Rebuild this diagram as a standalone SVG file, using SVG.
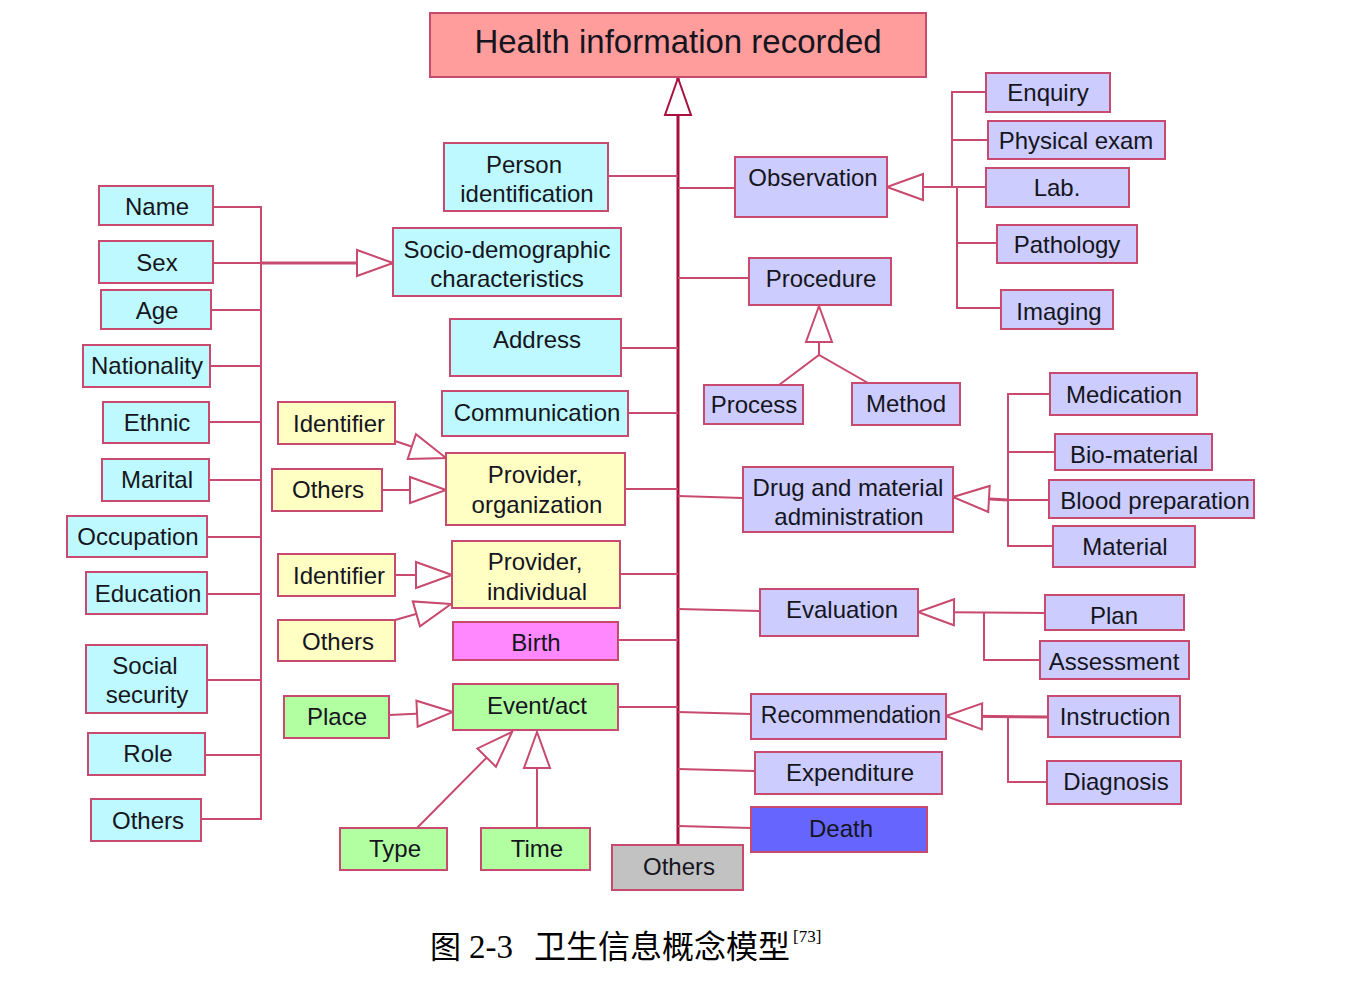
<svg xmlns="http://www.w3.org/2000/svg" width="1370" height="988" viewBox="0 0 1370 988">
<style>
  .box{stroke:#c84a6e;stroke-width:2}
  .cy{fill:#bdf9ff}.ye{fill:#ffffc4}.pu{fill:#ccccff}.gr{fill:#b2ffa2}.mg{fill:#ff88ff}.dk{fill:#6666ff}.gy{fill:#c2c2c2}.rd{fill:#ff9c9c}
  text{font-family:"Liberation Sans",Arial,sans-serif;font-size:24px;fill:#151520;text-anchor:middle}
  .ln{fill:none;stroke:#c84a6e;stroke-width:2}
  .arr{fill:none;stroke:#c84a6e;stroke-width:2;marker-end:url(#tri)}
  .spine{fill:none;stroke:#a8103e;stroke-width:3;marker-end:url(#tri2)}
</style>
<defs>
  <marker id="tri" viewBox="-40 -16 44 32" refX="0" refY="0" markerWidth="44" markerHeight="32" markerUnits="userSpaceOnUse" orient="auto">
    <path d="M0,0 L-36,-13 L-36,13 Z" fill="#fff" stroke="#c84a6e" stroke-width="2"/>
  </marker>
  <marker id="tri2" viewBox="-40 -16 44 32" refX="0" refY="0" markerWidth="44" markerHeight="32" markerUnits="userSpaceOnUse" orient="auto">
    <path d="M0,0 L-37,-13 L-37,13 Z" fill="#fff" stroke="#a8103e" stroke-width="2"/>
  </marker>
</defs>
<rect width="1370" height="988" fill="#fff"/>

<g id="connectors">
  <path class="spine" d="M678,845 L678,78"/>
  <path class="ln" d="M213,207 H261 V819 H201 M213,263 H261 M211,310 H261 M210,366 H261 M209,422 H261 M209,480 H261 M207,537 H261 M207,594 H261 M207,680 H261 M205,755 H261"/>
  <path class="arr" d="M261,263 L393,263" style="stroke-width:3"/>
  <path class="ln" d="M608,176 H678 M621,348 H678 M628,413 H678 M625,489 H678 M620,574 H678 M618,640 H678 M618,707 H678"/>
  <path class="ln" d="M678,188 H735 M678,278 H749 M678,496 L743,498 M678,609 L760,611 M678,712 L751,714 M678,769 L755,771 M678,826 L751,828"/>
  <path class="arr" d="M395,441 L446,458"/>
  <path class="arr" d="M382,490 L446,490"/>
  <path class="arr" d="M395,575 L452,575"/>
  <path class="arr" d="M395,620 L451,604"/>
  <path class="arr" d="M389,715 L453,712"/>
  <path class="arr" d="M417,828 L512,732"/>
  <path class="arr" d="M537,828 L537,732"/>
  <path class="arr" d="M957,187 L887,187"/>
  <path class="ln" d="M986,92 H952 V187 M988,140 H952 M957,187 H986 M957,187 V308 H1001 M957,243 H997"/>
  <path class="arr" d="M819,355 L819,306"/>
  <path class="ln" d="M779,385 L819,355 L868,383"/>
  <path class="arr" d="M1008,500 L953,497" style="stroke-width:3"/>
  <path class="ln" d="M1050,394 H1008 V546 H1053 M1008,452 H1055 M1008,500 H1049"/>
  <path class="arr" d="M1045,613 L918,612"/>
  <path class="ln" d="M984,613 V660 H1040"/>
  <path class="arr" d="M1048,717 L946,716" style="stroke-width:3"/>
  <path class="ln" d="M1008,717 V782 H1047"/>
</g>

<g id="title"><rect class="box rd" x="430" y="13" width="496" height="64"/><text x="678" y="53" style="font-size:33px">Health information recorded</text></g>

<g id="name"><rect class="box cy" x="99" y="186" width="114" height="39"/><text x="157" y="215">Name</text></g>
<g id="sex"><rect class="box cy" x="99" y="241" width="114" height="42"/><text x="157" y="271">Sex</text></g>
<g id="age"><rect class="box cy" x="101" y="290" width="110" height="39"/><text x="157" y="319">Age</text></g>
<g id="nationality"><rect class="box cy" x="83" y="345" width="127" height="42"/><text x="147" y="374">Nationality</text></g>
<g id="ethnic"><rect class="box cy" x="103" y="402" width="106" height="41"/><text x="157" y="431">Ethnic</text></g>
<g id="marital"><rect class="box cy" x="102" y="459" width="107" height="42"/><text x="157" y="488">Marital</text></g>
<g id="occupation"><rect class="box cy" x="67" y="516" width="140" height="41"/><text x="138" y="545">Occupation</text></g>
<g id="education"><rect class="box cy" x="86" y="572" width="121" height="42"/><text x="148" y="602">Education</text></g>
<g id="social-security"><rect class="box cy" x="86" y="645" width="121" height="68"/><text x="145" y="674">Social</text><text x="147" y="703">security</text></g>
<g id="role"><rect class="box cy" x="88" y="733" width="117" height="42"/><text x="148" y="762">Role</text></g>
<g id="others-left"><rect class="box cy" x="91" y="799" width="110" height="42"/><text x="148" y="829">Others</text></g>

<g id="person-identification"><rect class="box cy" x="444" y="143" width="164" height="68"/><text x="524" y="173">Person</text><text x="527" y="202">identification</text></g>
<g id="socio-demographic"><rect class="box cy" x="393" y="228" width="228" height="68"/><text x="507" y="258">Socio-demographic</text><text x="507" y="287">characteristics</text></g>
<g id="address"><rect class="box cy" x="450" y="319" width="171" height="57"/><text x="537" y="348">Address</text></g>
<g id="communication"><rect class="box cy" x="442" y="391" width="186" height="45"/><text x="537" y="421">Communication</text></g>
<g id="provider-organization"><rect class="box ye" x="446" y="453" width="179" height="72"/><text x="535" y="483">Provider,</text><text x="537" y="513">organization</text></g>
<g id="provider-individual"><rect class="box ye" x="452" y="541" width="168" height="67"/><text x="535" y="570">Provider,</text><text x="537" y="600">individual</text></g>
<g id="birth"><rect class="box mg" x="453" y="622" width="165" height="38"/><text x="536" y="651">Birth</text></g>
<g id="event-act"><rect class="box gr" x="453" y="684" width="165" height="46"/><text x="537" y="714">Event/act</text></g>

<g id="identifier-1"><rect class="box ye" x="278" y="402" width="117" height="42"/><text x="339" y="432">Identifier</text></g>
<g id="others-1"><rect class="box ye" x="272" y="469" width="110" height="42"/><text x="328" y="498">Others</text></g>
<g id="identifier-2"><rect class="box ye" x="278" y="554" width="117" height="42"/><text x="339" y="584">Identifier</text></g>
<g id="others-2"><rect class="box ye" x="278" y="620" width="117" height="41"/><text x="338" y="650">Others</text></g>
<g id="place"><rect class="box gr" x="284" y="696" width="105" height="42"/><text x="337" y="725">Place</text></g>
<g id="type"><rect class="box gr" x="340" y="828" width="107" height="42"/><text x="395" y="857">Type</text></g>
<g id="time"><rect class="box gr" x="481" y="828" width="109" height="42"/><text x="537" y="857">Time</text></g>
<g id="others-bottom"><rect class="box gy" x="612" y="845" width="131" height="45"/><text x="679" y="875">Others</text></g>

<g id="observation"><rect class="box pu" x="735" y="157" width="152" height="60"/><text x="813" y="186">Observation</text></g>
<g id="enquiry"><rect class="box pu" x="986" y="73" width="124" height="39"/><text x="1048" y="101">Enquiry</text></g>
<g id="physical-exam"><rect class="box pu" x="988" y="121" width="177" height="38"/><text x="1076" y="149">Physical exam</text></g>
<g id="lab"><rect class="box pu" x="986" y="168" width="143" height="39"/><text x="1057" y="196">Lab.</text></g>
<g id="pathology"><rect class="box pu" x="997" y="225" width="140" height="38"/><text x="1067" y="253">Pathology</text></g>
<g id="imaging"><rect class="box pu" x="1001" y="290" width="112" height="39"/><text x="1059" y="320">Imaging</text></g>
<g id="procedure"><rect class="box pu" x="749" y="258" width="142" height="47"/><text x="821" y="287">Procedure</text></g>
<g id="process"><rect class="box pu" x="704" y="385" width="99" height="39"/><text x="754" y="413">Process</text></g>
<g id="method"><rect class="box pu" x="852" y="383" width="108" height="42"/><text x="906" y="412">Method</text></g>
<g id="drug-material"><rect class="box pu" x="743" y="467" width="210" height="65"/><text x="848" y="496">Drug and material</text><text x="849" y="525">administration</text></g>
<g id="medication"><rect class="box pu" x="1050" y="373" width="147" height="42"/><text x="1124" y="403">Medication</text></g>
<g id="bio-material"><rect class="box pu" x="1055" y="434" width="157" height="36"/><text x="1134" y="463">Bio-material</text></g>
<g id="blood-preparation"><rect class="box pu" x="1049" y="480" width="205" height="38"/><text x="1155" y="509">Blood preparation</text></g>
<g id="material"><rect class="box pu" x="1053" y="526" width="142" height="41"/><text x="1125" y="555">Material</text></g>
<g id="evaluation"><rect class="box pu" x="760" y="589" width="158" height="47"/><text x="842" y="618">Evaluation</text></g>
<g id="plan"><rect class="box pu" x="1045" y="595" width="139" height="35"/><text x="1114" y="624">Plan</text></g>
<g id="assessment"><rect class="box pu" x="1040" y="641" width="149" height="38"/><text x="1114" y="670">Assessment</text></g>
<g id="recommendation"><rect class="box pu" x="751" y="694" width="195" height="45"/><text x="851" y="723" style="font-size:23px">Recommendation</text></g>
<g id="instruction"><rect class="box pu" x="1048" y="696" width="132" height="41"/><text x="1115" y="725">Instruction</text></g>
<g id="diagnosis"><rect class="box pu" x="1047" y="761" width="134" height="43"/><text x="1116" y="790">Diagnosis</text></g>
<g id="expenditure"><rect class="box pu" x="755" y="752" width="187" height="42"/><text x="850" y="781">Expenditure</text></g>
<g id="death"><rect class="box dk" x="751" y="807" width="176" height="45"/><text x="841" y="837">Death</text></g>

<g id="caption">
  <text x="430" y="958" style="text-anchor:start;font-family:'Noto Sans CJK SC',sans-serif;font-size:31px;fill:#000">图</text>
  <text x="469" y="958" style="text-anchor:start;font-family:'Liberation Serif',serif;font-size:33px;fill:#000">2-3</text>
  <text x="534" y="958" style="text-anchor:start;font-family:'Noto Sans CJK SC',sans-serif;font-size:32px;fill:#000">卫生信息概念模型</text>
  <text x="793" y="942" style="text-anchor:start;font-family:'Liberation Serif',serif;font-size:17px;fill:#000">[73]</text>
</g>
</svg>
